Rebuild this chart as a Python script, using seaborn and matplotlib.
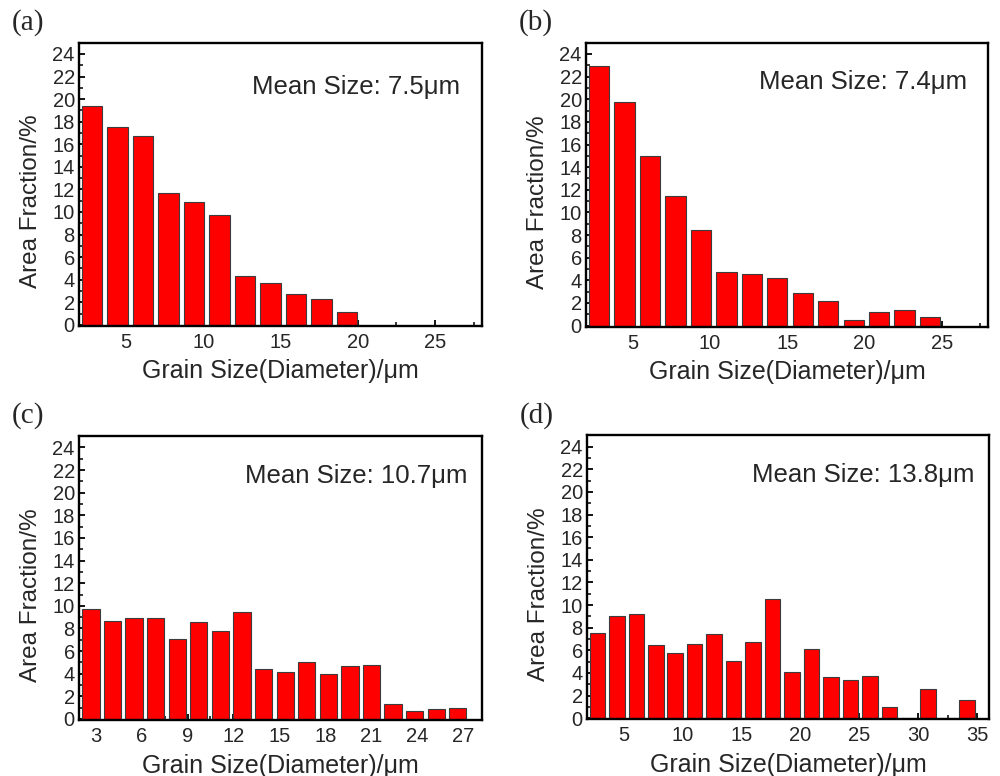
import matplotlib
matplotlib.use("Agg")
import matplotlib.pyplot as plt
import numpy as np
import pandas as pd
import seaborn as sns
from matplotlib.ticker import MultipleLocator

# bin centres (um) and area fractions (%)
centers_a = [2.8, 4.45, 6.1, 7.75, 9.4, 11.05, 12.7, 14.35, 16.0, 17.65, 19.3]
frac_a = [19.35, 17.5, 16.75, 11.7, 10.9, 9.7, 4.3, 3.7, 2.7, 2.3, 1.1]

centers_b = [2.8, 4.45, 6.1, 7.75, 9.4, 11.05, 12.7, 14.35, 16.0, 17.65,
             19.3, 20.95, 22.6, 24.25]
frac_b = [22.95, 19.75, 14.95, 11.45, 8.45, 4.7, 4.6, 4.2, 2.9, 2.2,
          0.45, 1.2, 1.4, 0.8]

centers_c = [2.69, 4.10, 5.51, 6.92, 8.33, 9.74, 11.15, 12.56, 13.97, 15.38,
             16.79, 18.2, 19.61, 21.02, 22.43, 23.84, 25.25, 26.66]
frac_c = [9.75, 8.7, 8.95, 8.95, 7.1, 8.6, 7.75, 9.5, 4.45, 4.15,
          5.0, 4.0, 4.7, 4.8, 1.3, 0.75, 0.9, 0.95]

centers_d = [2.8, 4.45, 6.1, 7.75, 9.4, 11.05, 12.7, 14.35, 16.0, 17.65,
             19.3, 20.95, 22.6, 24.25, 25.9, 27.55, 29.2, 30.85, 32.5, 34.15]
frac_d = [7.55, 9.0, 9.2, 6.5, 5.8, 6.55, 7.4, 5.05, 6.7, 10.5,
          4.1, 6.15, 3.6, 3.35, 3.75, 1.0, 0.0, 2.6, 0.0, 1.6]

mean_sizes = ["7.5", "7.4", "10.7", "13.8"]
panel_tags = ["(a)", "(b)", "(c)", "(d)"]

sns.set_style("ticks")
plt.rcParams["font.family"] = ["Liberation Sans", "DejaVu Sans"]

fig = plt.figure(figsize=(10, 7.76), dpi=100)

panels = [
    dict(x=centers_a, y=frac_a, rect=[0.079, 0.580, 0.403, 0.365],
         xlim=(1.95, 28.05), major=5, minor=2.5, txt=(0.945, 0.845)),
    dict(x=centers_b, y=frac_b, rect=[0.586, 0.579, 0.402, 0.366],
         xlim=(1.96, 28.0), major=5, minor=2.5, txt=(0.947, 0.86)),
    dict(x=centers_c, y=frac_c, rect=[0.079, 0.072, 0.403, 0.366],
         xlim=(1.91, 28.24), major=3, minor=1.5, txt=(0.964, 0.859)),
    dict(x=centers_d, y=frac_d, rect=[0.587, 0.073, 0.402, 0.366],
         xlim=(1.92, 36.0), major=5, minor=2.5, txt=(0.965, 0.859)),
]

for i, p in enumerate(panels):
    ax = fig.add_axes(p["rect"])
    df = pd.DataFrame({"size": p["x"], "frac": p["y"]})
    sns.barplot(data=df, x="size", y="frac", native_scale=True, orient="v",
                color="#ff0000", saturation=1, width=0.8, errorbar=None,
                edgecolor="#3c3c3c", linewidth=0.8, ax=ax)

    ax.set_xlim(*p["xlim"])
    ax.set_ylim(-0.1, 25.0)
    ax.xaxis.set_major_locator(MultipleLocator(p["major"]))
    ax.xaxis.set_minor_locator(MultipleLocator(p["minor"]))
    ax.yaxis.set_major_locator(MultipleLocator(2))
    ax.yaxis.set_minor_locator(MultipleLocator(1))
    ax.tick_params(axis="both", which="major", direction="in", length=4.5,
                   width=1.3, labelsize=14.5, color="black")
    ax.tick_params(axis="both", which="minor", direction="in", length=3,
                   width=1.1, color="black")
    ax.tick_params(axis="x", which="major", pad=5)
    ax.tick_params(axis="y", which="major", pad=3)
    for s in ax.spines.values():
        s.set_visible(True)
        s.set_linewidth(1.7)
        s.set_color("black")

    ax.set_xlabel("Grain Size(Diameter)/μm", fontsize=18)
    ax.set_ylabel("Area Fraction/%", fontsize=17.5)
    ax.xaxis.set_label_coords(0.5, -0.118)
    ax.yaxis.set_label_coords(-0.093, 0.44)

    ax.text(p["txt"][0], p["txt"][1], "Mean Size: " + mean_sizes[i] + "μm",
            transform=ax.transAxes, ha="right", va="center", fontsize=18.5)

    x0, y1 = p["rect"][0], p["rect"][1] + p["rect"][3]
    fig.text(x0 - 0.067, y1 + 0.026, panel_tags[i], family="Liberation Serif",
             fontsize=21, ha="left", va="center")

fig.savefig("out.png", dpi=100)
